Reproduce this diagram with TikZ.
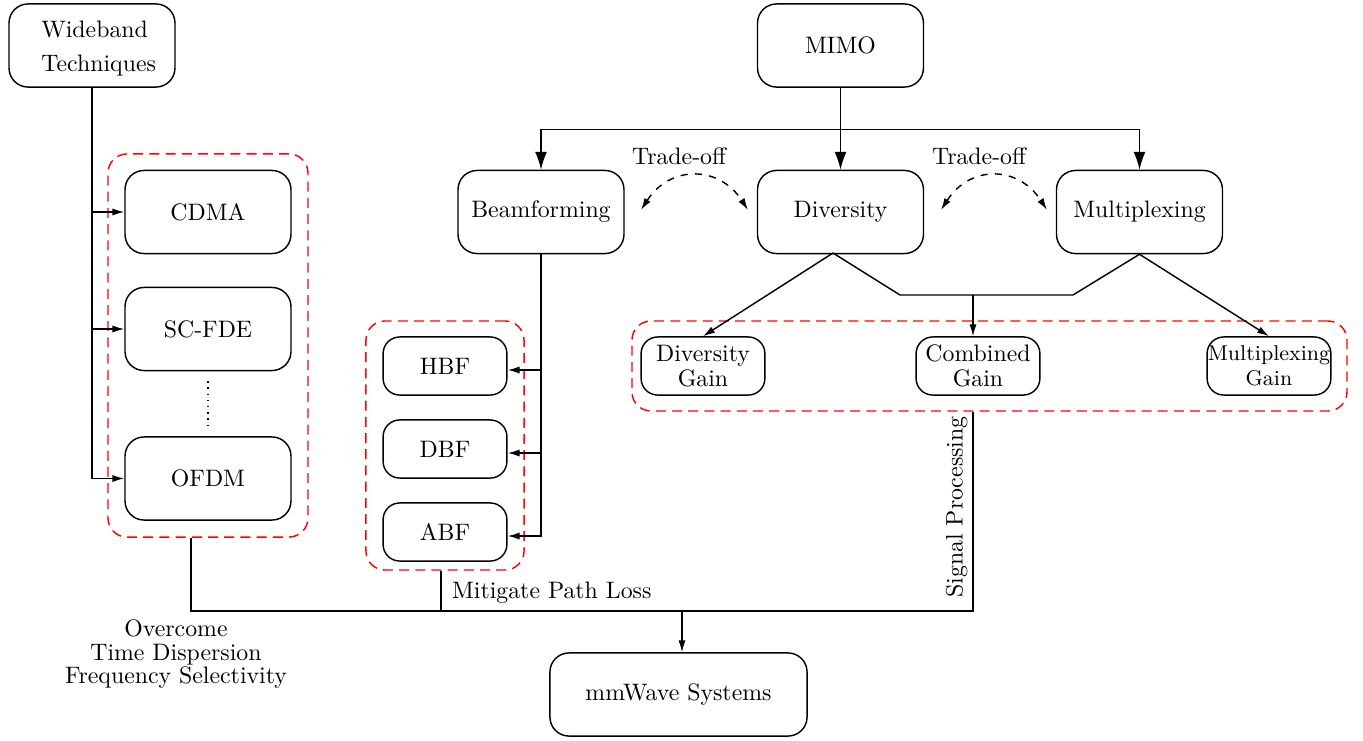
\documentclass[tikz,border=0pt]{standalone}
\usetikzlibrary{arrows.meta}

\begin{document}
\begin{tikzpicture}[x=0.42pt,y=-0.42pt,line width=0.6pt,
	blk/.style={draw,rounded corners=8pt,minimum width=69.7pt,minimum height=34.9pt,inner sep=0pt},
	sblk/.style={draw,rounded corners=7pt,minimum width=52pt,minimum height=24.4pt,inner sep=0pt,align=center,font=\normalsize\linespread{0.9}\selectfont},
	grp/.style={draw=red,dash pattern=on 4.2pt off 2.6pt,rounded corners=8pt,inner sep=0pt},
	arr/.style={-{Latex[length=5pt,width=3pt]}},
	bigarr/.style={-{Latex[length=7.5pt,width=5pt]}}]
	\useasboundingbox (0,0) rectangle (1363,740);
	% groups
	\node[grp,minimum width=84pt,minimum height=160.9pt] (grpW) at (208,345.5) {};
	\node[grp,minimum width=66.4pt,minimum height=104.6pt] (grpB) at (445,445.5) {};
	\node[grp,minimum width=300.3pt,minimum height=37.8pt] (grpG) at (989.5,366) {};
	% blocks
	\node[blk] (wide) at (92,45.5) {};
	\node[align=left,font=\linespread{1.2}\selectfont,inner sep=0pt] (wtext) at ([xshift=2.8pt,yshift=-1.2pt]wide.center) {Wideband\\Techniques};
	\node[blk] (mimo) at (840.5,45.5) {MIMO};
	\node[blk] (beam) at (541,212) {Beamforming};
	\node[blk] (div) at (840.5,212) {Diversity};
	\node[blk] (mux) at (1139.5,212) {Multiplexing};
	\node[blk] (cdma) at (208,212) {CDMA};
	\node[blk] (scfde) at (208,329) {SC-FDE};
	\node[blk] (ofdm) at (208,478.5) {OFDM};
	\node[sblk] (hbf) at (445,366) {HBF};
	\node[sblk] (dbf) at (445,449) {DBF};
	\node[sblk] (abf) at (445,532) {ABF};
	\node[sblk] (divg) at (703,366) {Diversity\\Gain};
	\node[sblk] (comb) at (978,366) {Combined\\Gain};
	\node[sblk,font=\small\linespread{0.95}\selectfont] (muxg) at (1269,366) {Multiplexing\\Gain};
	\node[blk,minimum width=108pt] (mmw) at (678.5,694.5) {mmWave Systems};
	\draw[dotted] ([yshift=-10*0.42pt]scfde.south) -- ([yshift=8*0.42pt]ofdm.north);
	% wideband
	\draw[arr] (wide.south) |- (cdma.west);
	\draw[arr] (wide.south) |- (scfde.west);
	\draw[arr] (wide.south) |- (ofdm.west);
	% mimo
	\draw[bigarr] (mimo.south) -- (div.north);
	\draw[bigarr] (mimo.south) -- ++(0,42) -| (beam.north);
	\draw[bigarr] (mimo.south) -- ++(0,42) -| (mux.north);
	% trade-off
	\coordinate (t1) at (641,210);
	\coordinate (t2) at (748,210);
	\coordinate (t3) at (941,210);
	\coordinate (t4) at (1047,210);
	\draw[dashed,{Latex[length=5pt,width=3pt]}-{Latex[length=5pt,width=3pt]}] (t1) .. controls (670,165) and (719,165) .. (t2);
	\draw[dashed,{Latex[length=5pt,width=3pt]}-{Latex[length=5pt,width=3pt]}] (t3) .. controls (970,165) and (1018,165) .. (t4);
	\node (to1) at (679,156) {Trade-off};
	\node (to2) at (979,156) {Trade-off};
	% beamforming
	\draw[arr] (beam.south) |- ([yshift=-4*0.42pt]hbf.east);
	\draw[arr] (beam.south) |- ([yshift=-4*0.42pt]dbf.east);
	\draw[arr] (beam.south) |- ([yshift=-4*0.42pt]abf.east);
	% gains
	\coordinate (ds) at (833,253);
	\coordinate (jl) at (900,295);
	\coordinate (jc) at (973,295);
	\coordinate (jr) at (1073,295);
	\draw[arr] (ds) -- (divg.north);
	\draw (ds) -- (jl) -- (jr) -- (mux.south);
	\draw[arr] (jc) -- (jc |- comb.north);
	\draw[arr] (mux.south) -- (muxg.north);
	% to mmwave
	\coordinate (bus) at (682,611);
	\draw ([xshift=-7.1pt]grpW.south) |- (bus) -| (jc |- grpG.south);
	\draw ([xshift=-1.7pt]grpB.south) -- ([xshift=-1.7pt]grpB.south |- bus);
	\draw[arr] (bus) -- (bus |- mmw.north);
	\node[anchor=south west,inner sep=1pt] (mpl) at (449,606) {Mitigate Path Loss};
	\node[rotate=90,anchor=south,inner sep=2pt] (sp) at (973,507) {Signal Processing};
	\node[align=center] (oc) at (176,654) {Overcome\\[-2pt]Time Dispersion\\[-2.5pt]Frequency Selectivity};
\end{tikzpicture}
\end{document}
